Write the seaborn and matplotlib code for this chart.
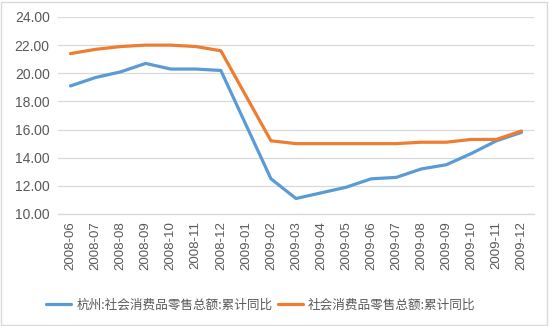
import numpy as np
import pandas as pd
import matplotlib
matplotlib.use("Agg")
import matplotlib.pyplot as plt
import seaborn as sns
from matplotlib.patches import Rectangle
from matplotlib.ticker import FixedLocator, FuncFormatter

months = ["2008-06", "2008-07", "2008-08", "2008-09", "2008-10", "2008-11", "2008-12",
          "2009-01", "2009-02", "2009-03", "2009-04", "2009-05", "2009-06", "2009-07",
          "2009-08", "2009-09", "2009-10", "2009-11", "2009-12"]
# January figures are not published separately (Jan-Feb combined), left empty
hangzhou = [19.1, 19.7, 20.1, 20.7, 20.3, 20.3, 20.2, np.nan, 12.5, 11.1, 11.5, 11.9,
            12.5, 12.6, 13.2, 13.5, 14.3, 15.2, 15.8]
national = [21.4, 21.7, 21.9, 22.0, 22.0, 21.9, 21.6, np.nan, 15.2, 15.0, 15.0, 15.0,
            15.0, 15.0, 15.1, 15.1, 15.3, 15.3, 15.9]
series_names = ["杭州:社会消费品零售总额:累计同比", "社会消费品零售总额:累计同比"]
colors = ["#5B9BD5", "#ED7D31"]

sns.set_style("white")
plt.rcParams["font.family"] = ["Noto Sans CJK SC", "DejaVu Sans"]

df = pd.DataFrame({"pos": np.arange(len(months)), "month": months,
                   series_names[0]: hangzhou, series_names[1]: national})
long = df.melt(id_vars=["pos", "month"], value_vars=series_names,
               var_name="series", value_name="value").dropna()

fig = plt.figure(figsize=(5.49, 3.26), dpi=100)
ax = fig.add_axes([0.1056, 0.3436, 0.8671, 0.6043])

sns.lineplot(data=long, x="pos", y="value", hue="series", hue_order=series_names,
             palette=colors, linewidth=2.3, ax=ax, legend=False)

ax.set_xlim(-0.5, len(months) - 0.5)
ax.set_ylim(10, 24)
ax.set_yticks(np.arange(10, 25, 2))
ax.yaxis.set_major_formatter(FuncFormatter(lambda v, p: f"{v:.2f}"))
ax.grid(axis="y", color="#D9D9D9", linewidth=0.9)
ax.set_axisbelow(True)

ax.set_xticks(np.arange(len(months)))
ax.set_xticklabels(months, rotation=90, family="Liberation Sans", fontsize=9.5, color="#595959")
ax.tick_params(axis="x", which="major", length=0, pad=5)
ax.xaxis.set_minor_locator(FixedLocator(np.arange(-0.5, len(months), 1.0)))
ax.tick_params(axis="x", which="minor", length=5, color="#D9D9D9", width=0.9)
ax.tick_params(axis="y", length=0, pad=6, labelcolor="#595959", labelsize=10)
for lab in ax.get_yticklabels():
    lab.set_family("Liberation Sans")

for side in ["top", "right", "left"]:
    ax.spines[side].set_visible(False)
ax.spines["bottom"].set_color("#D9D9D9")
ax.spines["bottom"].set_linewidth(0.9)
ax.set_xlabel("")
ax.set_ylabel("")

handles = [plt.Line2D([], [], color=c, linewidth=2.3) for c in colors]
fig.legend(handles, series_names, loc="center", bbox_to_anchor=(0.475, 0.065), ncol=2,
           frameon=False, fontsize=9.1, handlelength=2.0, handletextpad=0.4,
           columnspacing=0.4, labelcolor="#595959")

fig.patches.append(Rectangle((0.002, 0.003), 0.995, 0.992, transform=fig.transFigure,
                             fill=False, edgecolor="#D9D9D9", linewidth=1))

fig.savefig("out.png", dpi=100)
